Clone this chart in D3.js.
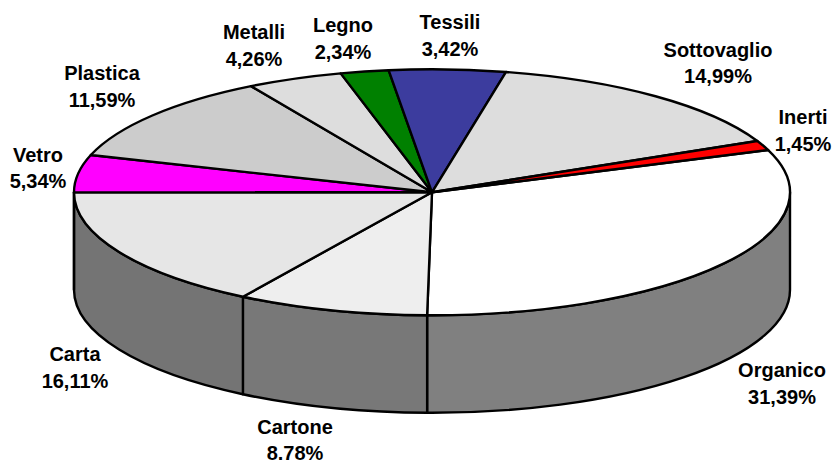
<!DOCTYPE html>
<html>
<head>
<meta charset="utf-8">
<script src="https://cdnjs.cloudflare.com/ajax/libs/d3/7.8.5/d3.min.js"></script>
<style>
html,body{margin:0;padding:0;background:#fff;}
svg{display:block;}
text{font-family:"Liberation Sans",Arial,sans-serif;font-weight:bold;font-size:20px;fill:#000;text-anchor:middle;}
</style>
</head>
<body>
<svg id="c" width="835" height="461"></svg>
<script>
// Slice order runs clockwise from the Inerti/Organico edge.
const categories = ["Organico","Cartone","Carta","Vetro","Plastica","Metalli","Legno","Tessili","Sottovaglio","Inerti"];
const percentLabels = ["31,39%","8.78%","16,11%","5,34%","11,59%","4,26%","2,34%","3,42%","14,99%","1,45%"];
const sliceShares = [30.8,8.64,16.14,4.9,11.67,4.33,2.17,5.25,14.83,1.27];
const topColors = ["#ffffff","#eeeeee","#e6e6e6","#ff00ff","#cccccc","#dddddd","#008000","#3c3c9e","#dddddd","#ff0000"];
const wallColors = {Organico:"#808080",Cartone:"#787878",Carta:"#747474"};
const labelCentres = [[782,377],[295,433.5],[75,361],[38,161.5],[102,80],[254,39],[343,32],[450,29],[718,56.5],[803,124]];

const cx = 432, cy = 192.3, rx = 358, ry = 123, depth = 97.5, lineGap = 26.5;
const startAngle = 69.9 * Math.PI / 180;

const svg = d3.select("#c");
const pie = d3.pie().sort(null).startAngle(startAngle).endAngle(startAngle + 2*Math.PI);
const slices = pie(sliceShares).map((d,i)=>({...d,name:categories[i],label:percentLabels[i],color:topColors[i],lab:labelCentres[i]}));

const px = a => cx + rx*Math.sin(a), py = a => cy - ry*Math.cos(a);

// Walls: only the front half of the ellipse is visible
function wallPath(a0,a1){
  return `M${px(a0)},${py(a0)}A${rx},${ry} 0 0 1 ${px(a1)},${py(a1)}`+
         `L${px(a1)},${py(a1)+depth}A${rx},${ry} 0 0 0 ${px(a0)},${py(a0)+depth}Z`;
}
const front = [Math.PI/2, 3*Math.PI/2];
svg.append("g").selectAll("path")
  .data(slices.filter(d=>Math.max(d.startAngle,front[0]) < Math.min(d.endAngle,front[1])))
  .join("path")
  .attr("d",d=>wallPath(Math.max(d.startAngle,front[0]),Math.min(d.endAngle,front[1])))
  .attr("fill",d=>wallColors[d.name])
  .attr("stroke","#000").attr("stroke-width",2.4).attr("stroke-linejoin","round");

// Top face: a circular d3.arc squashed into the ellipse
const arc = d3.arc().innerRadius(0).outerRadius(rx);
svg.append("g").attr("transform",`translate(${cx},${cy}) scale(1,${ry/rx})`)
  .selectAll("path").data(slices).join("path")
  .attr("d",arc)
  .attr("fill",d=>d.color)
  .attr("stroke","#000").attr("stroke-width",2.4).attr("stroke-linejoin","round")
  .attr("vector-effect","non-scaling-stroke");

// Labels
const t = svg.append("g").selectAll("text").data(slices).join("text")
  .attr("x",d=>d.lab[0]).attr("y",d=>d.lab[1]);
t.append("tspan").attr("x",d=>d.lab[0]).text(d=>d.name);
t.append("tspan").attr("x",d=>d.lab[0]).attr("dy",lineGap).text(d=>d.label);
</script>
</body>
</html>
